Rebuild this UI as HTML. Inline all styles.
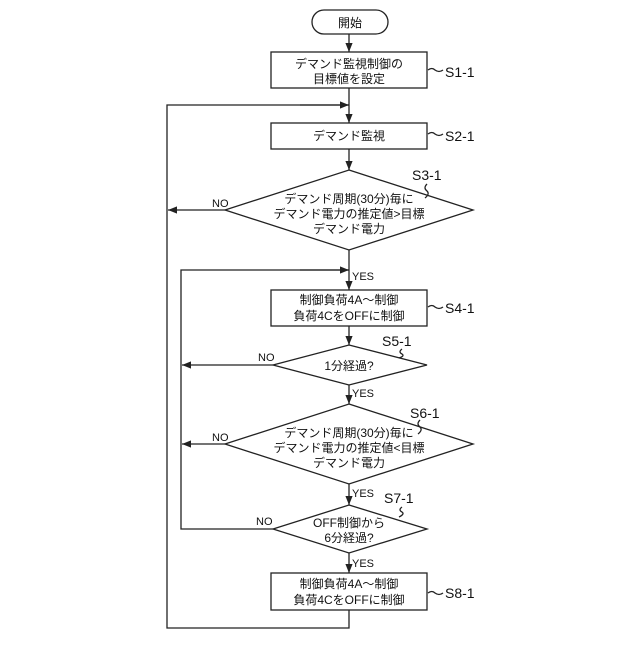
<!DOCTYPE html>
<html><head><meta charset="utf-8"><style>html,body{margin:0;padding:0;background:#fff}</style></head>
<body>
<svg width="640" height="640" viewBox="0 0 640 640" xmlns="http://www.w3.org/2000/svg" font-family="'Liberation Sans','Noto Sans CJK JP',sans-serif" fill="none" stroke="#222" stroke-width="1.3">
<defs><marker id="a" viewBox="0 0 10 10" refX="10" refY="5" markerWidth="7" markerHeight="7" orient="auto"><path d="M0,1 L10,5 L0,9 z" fill="#222" stroke="none"/></marker></defs>
<rect x="312" y="10" width="76" height="24" rx="12"/>
<line x1="349" y1="34" x2="349" y2="52" marker-end="url(#a)"/>
<rect x="271" y="52" width="156" height="36"/>
<line x1="349" y1="88" x2="349" y2="123" marker-end="url(#a)"/>
<rect x="271" y="123" width="156" height="26"/>
<line x1="349" y1="149" x2="349" y2="170" marker-end="url(#a)"/>
<polygon points="349,170 473,210 349,250 225,210"/>
<line x1="225" y1="210" x2="168" y2="210" marker-end="url(#a)"/>
<line x1="349" y1="250" x2="349" y2="290" marker-end="url(#a)"/>
<rect x="271" y="290" width="156" height="36"/>
<line x1="349" y1="326" x2="349" y2="345" marker-end="url(#a)"/>
<polygon points="349,345 427,365 349,385 273,365"/>
<line x1="273" y1="365" x2="182" y2="365" marker-end="url(#a)"/>
<line x1="349" y1="385" x2="349" y2="404" marker-end="url(#a)"/>
<polygon points="349,404 473,444 349,484 225,444"/>
<line x1="225" y1="444" x2="182" y2="444" marker-end="url(#a)"/>
<line x1="349" y1="484" x2="349" y2="505" marker-end="url(#a)"/>
<polygon points="349,505 427,529 349,553 273,529"/>
<polyline points="273,529 181,529 181,270 349,270" />
<line x1="300" y1="270" x2="349" y2="270" marker-end="url(#a)"/>
<line x1="349" y1="553" x2="349" y2="573" marker-end="url(#a)"/>
<rect x="271" y="573" width="156" height="37"/>
<polyline points="349,610 349,628 167,628 167,105 349,105"/>
<line x1="300" y1="105" x2="349" y2="105" marker-end="url(#a)"/>
<path d="M428,70 q4,-3 7,0 q4,3 8,0"/>
<path d="M428,134 q4,-3 7,0 q4,3 8,0"/>
<path d="M428,307 q4,-3 7,0 q4,3 8,0"/>
<path d="M428,593 q4,-3 7,0 q4,3 8,0"/>
<path d="M427,184 q-4,4 0,7 q3,3 -2,7"/>
<path d="M402,349 q-4,3 0,5 q3,2 -3,4"/>
<path d="M420,420 q-4,4 0,7 q3,3 -2,7"/>
<path d="M402,507 q-4,3 0,5 q3,2 -3,5"/>
<g fill="#111" stroke="none" font-size="12" text-anchor="middle">
<text x="350" y="27">開始</text>
<text x="349" y="68">デマンド監視制御の</text>
<text x="349" y="83">目標値を設定</text>
<text x="349" y="140">デマンド監視</text>
<text x="349" y="203">デマンド周期(30分)毎に</text>
<text x="349" y="218">デマンド電力の推定値&gt;目標</text>
<text x="349" y="233">デマンド電力</text>
<text x="349" y="304">制御負荷4A～制御</text>
<text x="349" y="320">負荷4CをOFFに制御</text>
<text x="349" y="370">1分経過?</text>
<text x="349" y="437">デマンド周期(30分)毎に</text>
<text x="349" y="452">デマンド電力の推定値&lt;目標</text>
<text x="349" y="467">デマンド電力</text>
<text x="349" y="527">OFF制御から</text>
<text x="349" y="542">6分経過?</text>
<text x="349" y="588">制御負荷4A～制御</text>
<text x="349" y="604">負荷4CをOFFに制御</text>
</g>
<g fill="#111" stroke="none" font-size="11">
<text x="212" y="207">NO</text>
<text x="258" y="361">NO</text>
<text x="212" y="441">NO</text>
<text x="256" y="525">NO</text>
<text x="352" y="280">YES</text>
<text x="352" y="397">YES</text>
<text x="352" y="497">YES</text>
<text x="352" y="567">YES</text>
</g>
<g fill="#111" stroke="none" font-size="14">
<text x="445" y="77">S1-1</text>
<text x="445" y="141">S2-1</text>
<text x="412" y="180">S3-1</text>
<text x="445" y="313">S4-1</text>
<text x="382" y="346">S5-1</text>
<text x="410" y="418">S6-1</text>
<text x="384" y="503">S7-1</text>
<text x="445" y="598">S8-1</text>
</g>
</svg>
</body></html>
